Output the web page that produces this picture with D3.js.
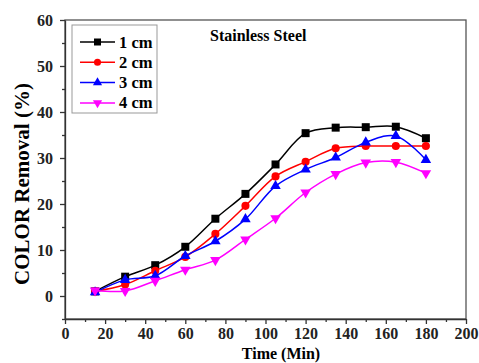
<!DOCTYPE html>
<html lang="en">
<head>
<meta charset="utf-8"/>
<title>Color removal</title>
<style>
    body { margin: 0; background: #fff; }
    text { font-family: "Liberation Serif", "DejaVu Serif", serif; font-weight: bold; }
    .axis path, .axis line { stroke: #333; stroke-width: 1.3px; }
    .axis text { font-family: "Liberation Serif", serif; font-size: 16px; fill: #222; }
</style>
</head>
<body>
<div class="viz"></div>
<script src="https://cdnjs.cloudflare.com/ajax/libs/d3/7.8.5/d3.min.js"></script>
<script>
    var times = [15, 30, 45, 60, 75, 90, 105, 120, 135, 150, 165, 180];
    var cm1 = [1.0, 4.2, 6.7, 10.7, 16.8, 22.2, 28.6, 35.4, 36.6, 36.7, 36.8, 34.3];
    var cm2 = [1.0, 2.5, 5.5, 8.5, 13.5, 19.6, 26.0, 29.2, 32.1, 32.6, 32.6, 32.6];
    var cm3 = [0.8, 3.5, 4.4, 8.7, 11.9, 16.7, 23.9, 27.5, 30.1, 33.4, 34.8, 29.6];
    var cm4 = [1.2, 1.1, 3.3, 5.7, 7.8, 12.3, 16.9, 22.5, 26.5, 29.0, 29.1, 26.7];
    var seriesNames = ["1 cm", "2 cm", "3 cm", "4 cm"];
    var seriesColors = ["#000000", "#ff0000", "#0000ff", "#ff00ff"];
    var xTicks = [0, 20, 40, 60, 80, 100, 120, 140, 160, 180, 200];
    var yTicks = [0, 10, 20, 30, 40, 50, 60];

    var width = 479, height = 363;
    var margin = {top: 20, right: 13, bottom: 44, left: 65};

    var svg = d3.select('.viz').append('svg')
        .attr('width', width)
        .attr('height', height);

    var x = d3.scaleLinear().domain([0, 200]).range([margin.left, width - margin.right]);
    var y = d3.scaleLinear().domain([-5, 60]).range([height - margin.bottom, margin.top]);

    // frame
    svg.append('rect')
        .attr('x', x(0)).attr('y', y(60))
        .attr('width', x(200) - x(0)).attr('height', y(-5) - y(60))
        .attr('fill', 'none').attr('stroke', '#555').attr('stroke-width', 1.3);

    // minor ticks
    svg.append('g').attr('class', 'axis')
        .attr('transform', 'translate(0,' + y(-5) + ')')
        .call(d3.axisBottom(x).tickValues(d3.range(10, 200, 20)).tickSize(3).tickFormat(''))
        .select('.domain').remove();
    svg.append('g').attr('class', 'axis')
        .attr('transform', 'translate(' + x(0) + ',0)')
        .call(d3.axisLeft(y).tickValues([-5, 5, 15, 25, 35, 45, 55]).tickSize(3).tickFormat(''))
        .select('.domain').remove();

    svg.append('g').attr('class', 'axis')
        .attr('transform', 'translate(0,' + y(-5) + ')')
        .call(d3.axisBottom(x).tickValues(xTicks).tickSize(5).tickPadding(4).tickSizeOuter(0))
        .attr('font-family', '"Liberation Serif", serif').attr('font-size', 16);
    svg.append('g').attr('class', 'axis')
        .attr('transform', 'translate(' + x(0) + ',0)')
        .call(d3.axisLeft(y).tickValues(yTicks).tickSize(5).tickPadding(7).tickSizeOuter(0))
        .attr('font-family', '"Liberation Serif", serif').attr('font-size', 16);

    svg.append('text')
        .attr('x', 281).attr('y', 359)
        .attr('text-anchor', 'middle').attr('font-size', 16)
        .text('Time (Min)');
    svg.append('text')
        .attr('transform', 'translate(29,184) rotate(-90)')
        .attr('text-anchor', 'middle').attr('font-size', 21)
        .text('COLOR Removal (%)');

    svg.append('text')
        .attr('x', 210).attr('y', 41)
        .attr('font-size', 16)
        .text('Stainless Steel');

    var allSeries = [cm1, cm2, cm3, cm4];
    var line = d3.line()
        .x(function(d) { return x(d[0]); })
        .y(function(d) { return y(d[1]); })
        .curve(d3.curveCatmullRom.alpha(0.5));

    function marker(sel, i, size) {
        if (i === 0) {
            sel.append('path').attr('d', d3.symbol(d3.symbolSquare, size * size));
        } else if (i === 1) {
            sel.append('path').attr('d', d3.symbol(d3.symbolCircle, size * size * 0.8));
        } else if (i === 2) {
            sel.append('path').attr('d', d3.symbol(d3.symbolTriangle, size * size * 0.75));
        } else {
            sel.append('path').attr('d', d3.symbol(d3.symbolTriangle, size * size * 0.75))
                .attr('transform', 'rotate(180)');
        }
    }

    allSeries.forEach(function(vals, i) {
        var pts = times.map(function(t, j) { return [t, vals[j]]; });
        svg.append('path')
            .datum(pts)
            .attr('fill', 'none')
            .attr('stroke', seriesColors[i])
            .attr('stroke-width', 1.5)
            .attr('d', line);
        pts.forEach(function(p) {
            var g = svg.append('g')
                .attr('transform', 'translate(' + x(p[0]) + ',' + y(p[1]) + ')')
                .attr('fill', seriesColors[i]);
            marker(g, i, 8);
        });
    });

    // legend
    var legend = svg.append('g');
    legend.append('rect')
        .attr('x', 72).attr('y', 25).attr('width', 85).attr('height', 88)
        .attr('fill', '#fff').attr('stroke', '#999').attr('stroke-width', 1);
    seriesNames.forEach(function(name, i) {
        var ly = 42 + i * 20.3;
        legend.append('line')
            .attr('x1', 80).attr('x2', 115).attr('y1', ly).attr('y2', ly)
            .attr('stroke', seriesColors[i]).attr('stroke-width', 1.5);
        var g = legend.append('g')
            .attr('transform', 'translate(97.5,' + ly + ')')
            .attr('fill', seriesColors[i]);
        marker(g, i, 7);
        legend.append('text')
            .attr('x', 119).attr('y', ly + 5.5)
            .attr('font-size', 16.5)
            .text(name);
    });
</script>
</body>
</html>
